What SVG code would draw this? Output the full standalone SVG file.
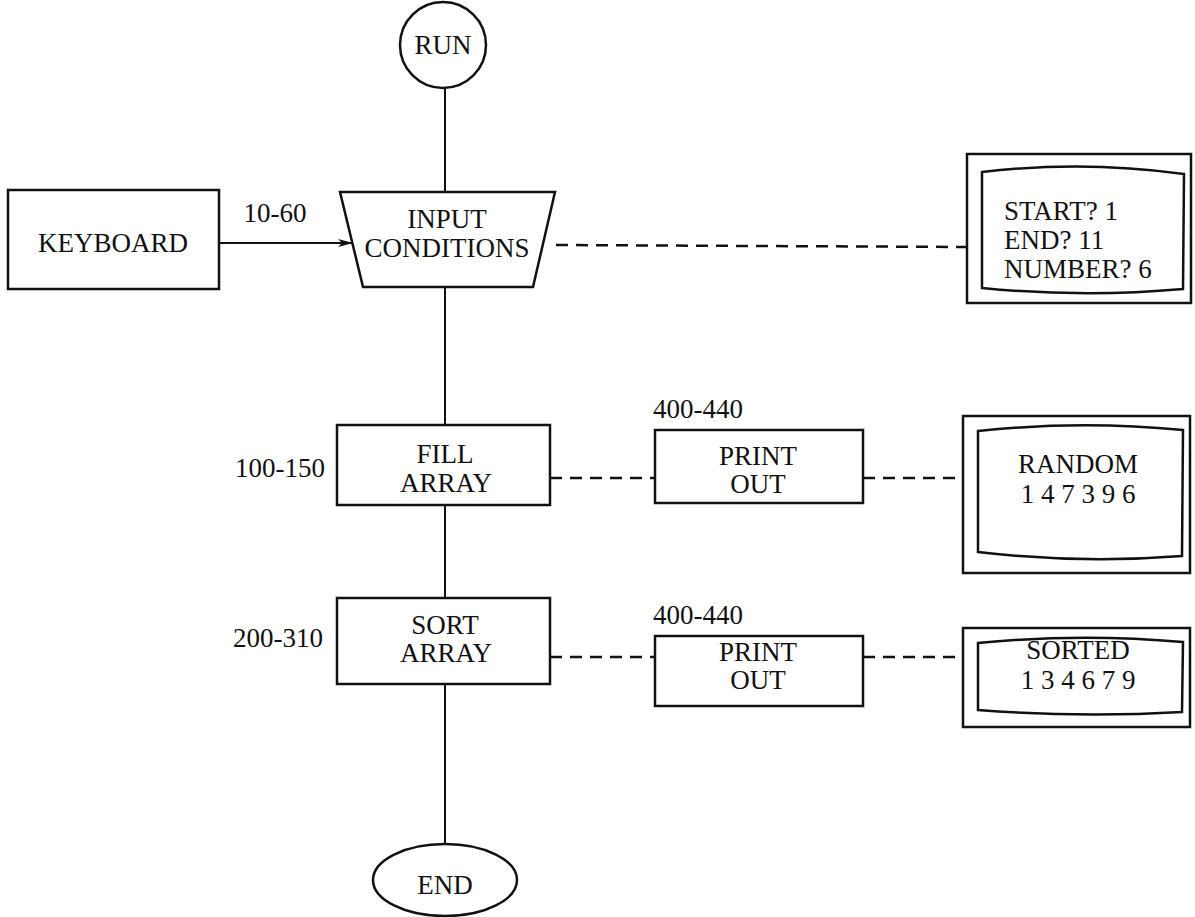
<svg xmlns="http://www.w3.org/2000/svg" width="1195" height="917" viewBox="0 0 1195 917">
<defs>
<style>
.s{fill:#fff;stroke:#111;stroke-width:2.5}
.sn{fill:none;stroke:#111;stroke-width:2.5}
.c{fill:none;stroke:#111;stroke-width:2}
.d{fill:none;stroke:#111;stroke-width:2.5;stroke-dasharray:12 8}
.t{font-family:"Liberation Serif","Times New Roman",serif;font-size:27px;fill:#111}
.m{text-anchor:middle}
</style>
<marker id="ah" viewBox="0 0 15 10" refX="14" refY="5" markerWidth="15" markerHeight="10" markerUnits="userSpaceOnUse" orient="auto">
<path d="M0,1 L15,5 L0,9 L4,5 Z" fill="#111"/>
</marker>
</defs>
<rect width="1195" height="917" fill="#fff"/>
<g id="connectors">
<line class="c" x1="445" y1="88" x2="445" y2="192"/>
<line class="c" x1="445" y1="287" x2="445" y2="425"/>
<line class="c" x1="445" y1="505" x2="445" y2="598"/>
<line class="c" x1="445" y1="684" x2="445" y2="844"/>
<line class="c" x1="219" y1="243" x2="352" y2="243" marker-end="url(#ah)"/>
<line class="d" x1="556" y1="245" x2="967" y2="247"/>
<line class="d" x1="550" y1="478" x2="655" y2="478"/>
<line class="d" x1="863" y1="478" x2="963" y2="478"/>
<line class="d" x1="550" y1="657" x2="655" y2="657"/>
<line class="d" x1="863" y1="657" x2="963" y2="657"/>
</g>
<g id="run">
<circle class="s" cx="443" cy="45" r="43"/>
<text class="t m" x="443" y="54">RUN</text>
</g>
<g id="input">
<path class="s" d="M340,192 L555,192 L533,287 L363,287 Z"/>
<text class="t m" x="447" y="228">INPUT</text>
<text class="t m" x="447" y="257">CONDITIONS</text>
</g>
<g id="keyboard">
<rect class="s" x="8" y="190" width="211" height="99"/>
<text class="t m" x="113" y="252">KEYBOARD</text>
</g>
<text class="t m" x="275" y="222">10-60</text>
<g id="screen1">
<rect class="s" x="967" y="154" width="224" height="149"/>
<path class="sn" d="M982,172 Q1083,160 1184,174 L1183,289 Q1083,298 982,288 Z"/>
<text class="t" x="1004" y="220">START? 1</text>
<text class="t" x="1004" y="249">END? 11</text>
<text class="t" x="1004" y="278">NUMBER? 6</text>
</g>
<g id="fill">
<rect class="s" x="337" y="425" width="213" height="80"/>
<text class="t m" x="445" y="463">FILL</text>
<text class="t m" x="446" y="492">ARRAY</text>
</g>
<text class="t m" x="280" y="477">100-150</text>
<g id="print1">
<rect class="s" x="655" y="430" width="208" height="73"/>
<text class="t m" x="758" y="465">PRINT</text>
<text class="t m" x="758" y="493">OUT</text>
</g>
<text class="t" x="653" y="418">400-440</text>
<g id="screen2">
<rect class="s" x="963" y="416" width="227" height="157"/>
<path class="sn" d="M978,431 Q1080,420 1183,430 L1182,556 Q1080,564 978,552 Z"/>
<text class="t m" x="1078" y="473">RANDOM</text>
<text class="t m" x="1078" y="503">1 4 7 3 9 6</text>
</g>
<g id="sort">
<rect class="s" x="337" y="598" width="213" height="86"/>
<text class="t m" x="445" y="634">SORT</text>
<text class="t m" x="446" y="662">ARRAY</text>
</g>
<text class="t m" x="278" y="647">200-310</text>
<g id="print2">
<rect class="s" x="655" y="636" width="208" height="70"/>
<text class="t m" x="758" y="661">PRINT</text>
<text class="t m" x="758" y="689">OUT</text>
</g>
<text class="t" x="653" y="624">400-440</text>
<g id="screen3">
<rect class="s" x="963" y="628" width="227" height="99"/>
<path class="sn" d="M978,643 Q1080,633 1183,642 L1182,712 Q1080,718 978,710 Z"/>
<text class="t m" x="1078" y="659">SORTED</text>
<text class="t m" x="1078" y="689">1 3 4 6 7 9</text>
</g>
<g id="end">
<ellipse class="s" cx="445" cy="880" rx="72" ry="36"/>
<text class="t m" x="445" y="894">END</text>
</g>
</svg>
